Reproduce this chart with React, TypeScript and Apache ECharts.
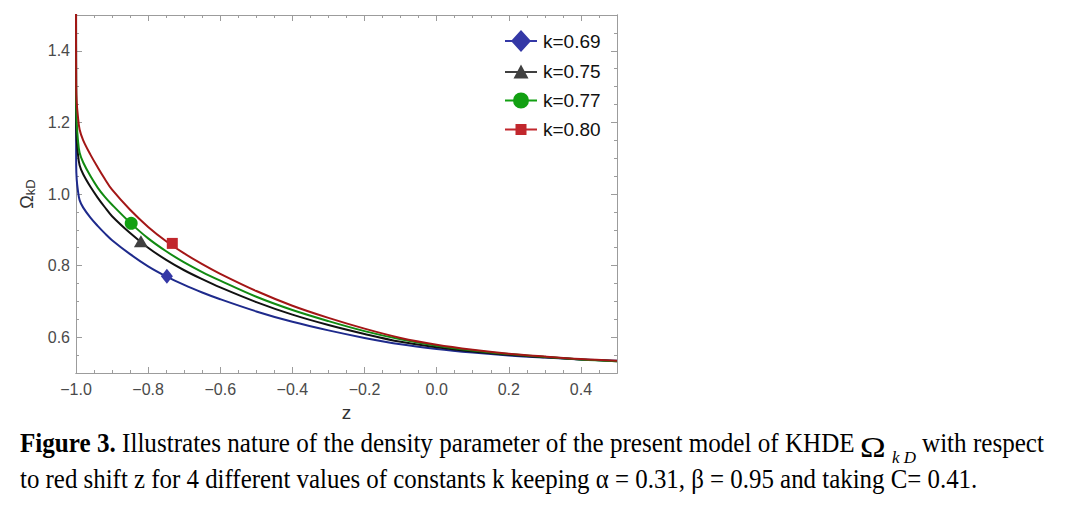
import React, { useEffect, useRef } from "react";
import * as echarts from "echarts";

// Redshift grid shared by all four curves (dense near z = -1 where the curves blow up)
const zGrid = [
  -1.0, -0.9995, -0.998, -0.995, -0.99, -0.98, -0.96, -0.94, -0.92, -0.9, -0.85, -0.8, -0.75,
  -0.7, -0.65, -0.6, -0.5, -0.4, -0.3, -0.2, -0.1, 0.0, 0.1, 0.2, 0.3, 0.4, 0.5,
];

// Density parameter Ω_kD for each k
const omegaK069 = [
  1.6, 1.08, 1.04, 1.012, 0.983, 0.962, 0.934, 0.911, 0.89, 0.871, 0.832, 0.798, 0.77,
  0.746, 0.725, 0.706, 0.672, 0.643, 0.619, 0.598, 0.58, 0.567, 0.557, 0.549, 0.543, 0.538, 0.534,
];
const omegaK075 = [
  1.6, 1.2, 1.15, 1.115, 1.08, 1.055, 1.02, 0.99, 0.963, 0.938, 0.891, 0.85, 0.816,
  0.787, 0.762, 0.739, 0.698, 0.663, 0.634, 0.609, 0.587, 0.572, 0.56, 0.551, 0.544, 0.538, 0.533,
];
const omegaK077 = [
  1.6, 1.26, 1.2, 1.155, 1.115, 1.088, 1.05, 1.018, 0.992, 0.97, 0.92, 0.876, 0.84,
  0.809, 0.782, 0.758, 0.713, 0.676, 0.645, 0.617, 0.594, 0.576, 0.563, 0.553, 0.545, 0.538, 0.533,
];
const omegaK080 = [
  1.6, 1.3, 1.255, 1.22, 1.18, 1.15, 1.11, 1.075, 1.042, 1.012, 0.956, 0.908, 0.868,
  0.834, 0.804, 0.777, 0.729, 0.688, 0.654, 0.624, 0.598, 0.579, 0.565, 0.554, 0.546, 0.539, 0.534,
];

const kLabels = ["k=0.69", "k=0.75", "k=0.77", "k=0.80"];
const lineColors = ["#1e2a8c", "#111111", "#118a11", "#a31616"];
const markerColors = ["#3438a6", "#404040", "#12a012", "#c1272d"];
const markerSymbols = ["diamond", "triangle", "circle", "rect"];
const markerSizes: (number | number[])[] = [[12, 15], [14, 12], 13, 11];

// One highlighted point on each curve
const markerZ = [-0.748, -0.82, -0.847, -0.733];
const markerOmega = [0.77, 0.868, 0.918, 0.862];

// Legend glyphs: a short line with the series marker on it (all sub-paths clockwise)
const legendIcons = [
  "path://M0,10H32V12H0Z M16,0L26,11L16,22L6,11Z",
  "path://M0,10H32V12H0Z M16,3.5L23.5,17.5L8.5,17.5Z",
  "path://M0,10H32V12H0Z M8,11A8,8 0 1,1 24,11A8,8 0 1,1 8,11Z",
  "path://M0,10H32V12H0Z M10.5,5.5H21.5V16.5H10.5Z",
];

const xMajorTicks = [-1.0, -0.8, -0.6, -0.4, -0.2, 0.0, 0.2, 0.4];
const xMinorTicks = [
  -0.95, -0.9, -0.85, -0.75, -0.7, -0.65, -0.55, -0.5, -0.45, -0.35, -0.3, -0.25, -0.15, -0.1,
  -0.05, 0.05, 0.1, 0.15, 0.25, 0.3, 0.35, 0.45,
];
const yMajorTicks = [0.6, 0.8, 1.0, 1.2, 1.4];
const yMinorTicks = [0.55, 0.65, 0.7, 0.75, 0.85, 0.9, 0.95, 1.05, 1.1, 1.15, 1.25, 1.3, 1.35, 1.45];

const X_MIN = -1.0;
const X_MAX = 0.5;
const Y_MIN = 0.5;
const Y_MAX = 1.5;

const frameColor = "#9c9c9c";
const sans = "Arial, 'Liberation Sans', Helvetica, sans-serif";
const serif = "'Times New Roman', 'Liberation Serif', serif";

const fmt = (v: number) => (v < 0 ? "\u2212" : "") + Math.abs(v).toFixed(1);

function frameAxis(
  dim: "x" | "y",
  position: string,
  ticks: number[],
  len: number,
  withLabels: boolean,
  extra: Record<string, unknown> = {}
) {
  return {
    type: "value",
    position,
    min: dim === "x" ? X_MIN : Y_MIN,
    max: dim === "x" ? X_MAX : Y_MAX,
    axisLine: { show: true, onZero: false, lineStyle: { color: frameColor, width: 1 } },
    axisTick: {
      show: true,
      inside: true,
      length: len,
      customValues: ticks,
      lineStyle: { color: frameColor, width: 1 },
    },
    axisLabel: withLabels
      ? {
          show: true,
          customValues: ticks,
          formatter: fmt,
          color: "#4a4a4a",
          fontFamily: sans,
          fontSize: 16,
          margin: dim === "x" ? 8 : 6,
        }
      : { show: false },
    splitLine: { show: false },
    ...extra,
  };
}

export default function App() {
  const ref = useRef<HTMLDivElement>(null);

  useEffect(() => {
    if (!ref.current) return;
    const chart = echarts.init(ref.current, null, { renderer: "svg" });

    const curves = [omegaK069, omegaK075, omegaK077, omegaK080];

    const lineSeries = curves.map((vals, i) => ({
      name: kLabels[i],
      type: "line",
      data: zGrid.map((z, j) => [z, vals[j]]),
      showSymbol: false,
      symbol: markerSymbols[i],
      smooth: 0.35,
      clip: true,
      lineStyle: { color: lineColors[i], width: 2 },
      itemStyle: { color: lineColors[i] },
      z: 2 + i,
    }));

    const markerSeries = curves.map((_, i) => ({
      type: "scatter",
      data: [[markerZ[i], markerOmega[i]]],
      symbol: markerSymbols[i],
      symbolSize: markerSizes[i],
      itemStyle: { color: markerColors[i], opacity: 1 },
      z: 10,
    }));

    chart.setOption({
      animation: false,
      backgroundColor: "#ffffff",
      grid: { left: 76, right: 449, top: 15, bottom: 137, containLabel: false },
      xAxis: [
        frameAxis("x", "bottom", xMajorTicks, 6, true, {
          name: "z",
          nameLocation: "middle",
          nameGap: 30,
          nameTextStyle: { fontFamily: sans, fontSize: 19, color: "#333" },
        }),
        frameAxis("x", "bottom", xMinorTicks, 3, false),
        frameAxis("x", "top", xMajorTicks, 6, false),
        frameAxis("x", "top", xMinorTicks, 3, false),
      ],
      yAxis: [
        frameAxis("y", "left", yMajorTicks, 6, true, {
          name: "{o|\u03A9}{s|kD}",
          nameLocation: "middle",
          nameRotate: 90,
          nameGap: 38,
          nameTextStyle: {
            color: "#333",
            rich: {
              o: { fontFamily: sans, fontSize: 18, lineHeight: 20, color: "#333" },
              s: {
                fontFamily: sans,
                fontSize: 13,
                lineHeight: 13,
                verticalAlign: "bottom",
                color: "#333",
              },
            },
          },
        }),
        frameAxis("y", "left", yMinorTicks, 3, false),
        frameAxis("y", "right", yMajorTicks, 6, false),
        frameAxis("y", "right", yMinorTicks, 3, false),
      ],
      legend: {
        orient: "vertical",
        left: 500,
        top: 25,
        itemWidth: 32,
        itemHeight: 22,
        itemGap: 10,
        selectedMode: false,
        data: kLabels.map((name, i) => ({
          name,
          icon: legendIcons[i],
          itemStyle: { color: markerColors[i], borderWidth: 0 },
        })),
        textStyle: { fontFamily: sans, fontSize: 19, color: "#111", padding: [0, 0, 0, 1] },
      },
      series: [...lineSeries, ...markerSeries],
      graphic: [
        {
          type: "text",
          x: 20,
          y: 443,
          scaleX: 0.93,
          style: {
            text: "{b|Figure 3.} Illustrates nature of the density parameter of the present model of KHDE",
            rich: { b: { fontWeight: "bold", fontFamily: serif, fontSize: 27, fill: "#000" } },
            fontFamily: serif,
            fontSize: 27,
            fill: "#000",
            verticalAlign: "middle",
          },
        },
        {
          type: "text",
          x: 860,
          y: 447,
          scaleX: 1.15,
          style: { text: "\u03A9", fontFamily: serif, fontSize: 30, fill: "#000", verticalAlign: "middle" },
        },
        {
          type: "text",
          x: 892,
          y: 457,
          style: {
            text: "k D",
            fontFamily: serif,
            fontStyle: "italic",
            fontSize: 17,
            fill: "#000",
            verticalAlign: "middle",
          },
        },
        {
          type: "text",
          x: 922,
          y: 443,
          scaleX: 0.93,
          style: { text: "with respect", fontFamily: serif, fontSize: 27, fill: "#000", verticalAlign: "middle" },
        },
        {
          type: "text",
          x: 20,
          y: 479,
          scaleX: 0.922,
          style: {
            text: "to red shift z for 4 different values of constants k keeping \u03B1 = 0.31, \u03B2 = 0.95 and taking C= 0.41.",
            fontFamily: serif,
            fontSize: 27,
            fill: "#000",
            verticalAlign: "middle",
          },
        },
      ],
    });

    return () => chart.dispose();
  }, []);

  return (
    <div
      ref={ref}
      style={{ position: "absolute", left: 0, top: 0, width: 1066, height: 510, background: "#fff" }}
    />
  );
}
